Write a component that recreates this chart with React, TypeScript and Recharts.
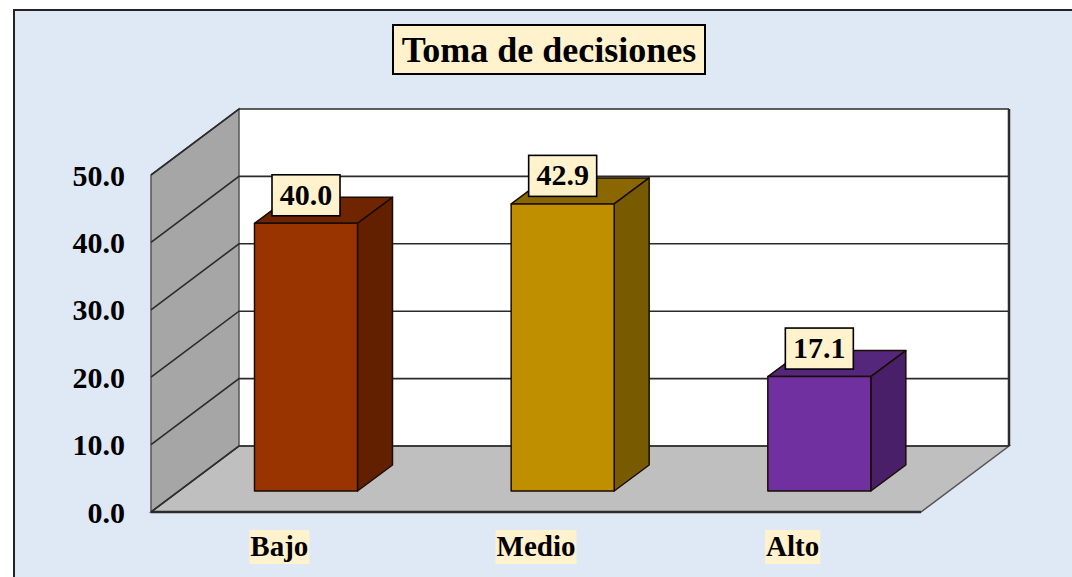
import { Bar, BarChart, CartesianGrid, LabelList, XAxis, YAxis, usePlotArea } from "recharts";

const categories = ["Bajo", "Medio", "Alto"];
const percentages = [40.0, 42.9, 17.1];
const yTicks = [0, 10, 20, 30, 40, 50];
const titleText = "Toma de decisiones";

const frontColors = ["#993300", "#BF8F00", "#7030A0"];
const topColors = ["#6E2500", "#8A6700", "#55277C"];
const sideColors = ["#622000", "#785A00", "#481F68"];

const chartData = categories.map((name, i) => ({ name, value: percentages[i] }));

const WIDTH = 1072;
const HEIGHT = 577;
const FONT = '"Liberation Serif", serif';
const LINE = "#2b2b2b";
const LABEL_BG = "#FFF2CC";

// oblique projection of the room and of the bars standing inside it
const WALL_DX = 88;
const WALL_DY = 66;
const BAR_SHIFT_X = 26.5;
const BAR_SHIFT_Y = 21;
const BAR_DX = 35;
const BAR_DY = 26;
const BAR_FORESHORTEN = 0.993;

function textWidth(text: string, size: number) {
  const ctx = document.createElement("canvas").getContext("2d");
  if (!ctx) return text.length * size * 0.5;
  ctx.font = `bold ${size}px ${FONT}`;
  return ctx.measureText(text).width;
}

function Room() {
  const plot = usePlotArea();
  if (!plot) return null;
  const left = plot.x;
  const right = plot.x + plot.width;
  const top = plot.y;
  const bottom = plot.y + plot.height;
  const backBottom = bottom - WALL_DY;
  const backTop = top - WALL_DY;
  return (
    <g>
      <rect x={left + WALL_DX} y={backTop} width={plot.width} height={plot.height} fill="#fff" />
      <polygon
        points={`${left},${top} ${left + WALL_DX},${backTop} ${left + WALL_DX},${backBottom} ${left},${bottom}`}
        fill="#A6A6A6"
        stroke="#555"
        strokeWidth={1.5}
      />
      <polygon
        points={`${left},${bottom} ${left + WALL_DX},${backBottom} ${right + WALL_DX},${backBottom} ${right},${bottom}`}
        fill="#BFBFBF"
        stroke="#555"
        strokeWidth={1.5}
      />
      <line x1={right + WALL_DX} x2={right + WALL_DX} y1={backTop} y2={backBottom} stroke={LINE} strokeWidth={2.5} />
      <line x1={left} x2={right} y1={bottom} y2={bottom} stroke={LINE} strokeWidth={2.5} />
    </g>
  );
}

function Title() {
  const w = 312;
  return (
    <g>
      <rect x={393} y={25} width={w} height={49} fill={LABEL_BG} stroke="#000" strokeWidth={2} />
      <text x={393 + w / 2} y={62} textAnchor="middle" fontFamily={FONT} fontWeight="bold" fontSize={36} fill="#000">
        {titleText}
      </text>
    </g>
  );
}

function WallGridLine(props: any) {
  const { x1, x2, y1, index } = props;
  return (
    <polyline
      key={index}
      points={`${x1},${y1} ${x1 + WALL_DX},${y1 - WALL_DY} ${x2 + WALL_DX},${y1 - WALL_DY}`}
      fill="none"
      stroke={LINE}
      strokeWidth={1.6}
    />
  );
}

function Bar3D(props: any) {
  const { x, y, width, height, index } = props;
  const h = height * BAR_FORESHORTEN;
  const bottom = y + height - BAR_SHIFT_Y;
  const left = x + BAR_SHIFT_X;
  const right = left + width;
  const top = bottom - h;
  const edge = { stroke: "#1a0d00", strokeWidth: 1.5, strokeLinejoin: "round" as const };
  return (
    <g>
      <polygon
        points={`${left},${top} ${left + BAR_DX},${top - BAR_DY} ${right + BAR_DX},${top - BAR_DY} ${right},${top}`}
        fill={topColors[index]}
        {...edge}
      />
      <polygon
        points={`${right},${top} ${right + BAR_DX},${top - BAR_DY} ${right + BAR_DX},${bottom - BAR_DY} ${right},${bottom}`}
        fill={sideColors[index]}
        {...edge}
      />
      <rect x={left} y={top} width={width} height={h} fill={frontColors[index]} {...edge} />
    </g>
  );
}

function ValueLabel(props: any) {
  const { x, y, width, height, value } = props;
  const cx = x + width / 2 + BAR_SHIFT_X;
  const barTop = y + height - BAR_SHIFT_Y - height * BAR_FORESHORTEN;
  const boxW = 68;
  const boxH = 41;
  const boxBottom = barTop - 7.5;
  return (
    <g>
      <rect x={cx - boxW / 2} y={boxBottom - boxH} width={boxW} height={boxH} fill={LABEL_BG} stroke="#000" strokeWidth={1.6} />
      <text x={cx} y={boxBottom - 11} textAnchor="middle" fontFamily={FONT} fontWeight="bold" fontSize={30} fill="#000">
        {Number(value).toFixed(1)}
      </text>
    </g>
  );
}

function CategoryTick(props: any) {
  const { x, y, payload } = props;
  const size = 29;
  const w = textWidth(payload.value, size) + 2;
  return (
    <g>
      <rect x={x - w / 2} y={y} width={w} height={34} fill={LABEL_BG} />
      <text x={x} y={y + 26} textAnchor="middle" fontFamily={FONT} fontWeight="bold" fontSize={size} fill="#000">
        {payload.value}
      </text>
    </g>
  );
}

export default function App() {
  return (
    <div style={{ position: "absolute", left: 0, top: 0, width: WIDTH, height: HEIGHT, overflow: "hidden", background: "#fff" }}>
      <div
        style={{
          position: "absolute",
          left: 13,
          top: 9,
          width: WIDTH,
          height: HEIGHT,
          background: "#DEE9F5",
          border: "2px solid #222",
        }}
      />
      <div style={{ position: "absolute", left: 0, top: 0 }}>
        <BarChart
          width={WIDTH}
          height={HEIGHT}
          data={chartData}
          barSize={103}
          margin={{ top: 175, right: 151, bottom: 0, left: 0 }}
        >
          <Room />
          <CartesianGrid horizontal={WallGridLine} vertical={false} zIndex={1} />
          <XAxis
            dataKey="name"
            axisLine={false}
            tickLine={false}
            tickSize={0}
            tickMargin={18}
            height={65}
            tick={CategoryTick}
            interval={0}
          />
          <YAxis
            type="number"
            domain={[0, 50]}
            ticks={yTicks}
            width={151}
            axisLine={false}
            tickLine={false}
            tickSize={0}
            tickMargin={26}
            tickFormatter={(v: number) => v.toFixed(1)}
            tick={{ fontFamily: FONT, fontWeight: "bold", fontSize: 30, fill: "#000" }}
          />
          <Bar dataKey="value" shape={Bar3D} isAnimationActive={false}>
            <LabelList dataKey="value" content={ValueLabel} />
          </Bar>
          <Title />
        </BarChart>
      </div>
    </div>
  );
}
